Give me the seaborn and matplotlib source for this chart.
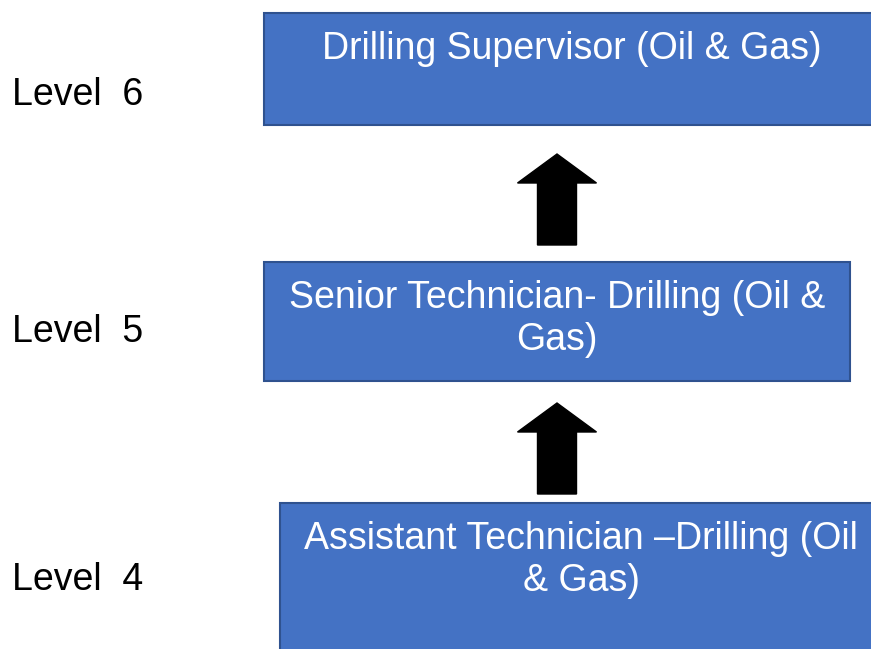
import matplotlib.pyplot as plt
import matplotlib.patches as mpatches
import seaborn as sns

sns.set_theme(style="white")
plt.rcParams['font.family'] = ['Liberation Sans', 'DejaVu Sans']

# career path data
levels = ["Level  6", "Level  5", "Level  4"]
roles = ["Drilling Supervisor (Oil & Gas)",
         "Senior Technician- Drilling (Oil &\nGas)",
         "Assistant Technician \u2013Drilling (Oil\n& Gas)"]

# layout (pixels, y down)
boxes = [(264, 13, 615, 112), (264, 262, 586, 119), (280, 503, 602, 160)]
text_y = [49, 319, 560]
level_y = [95, 332, 580]
arrows = [(557, 245, 154), (557, 494, 403)]

fig = plt.figure(figsize=(8.71, 6.49), dpi=100)
ax = fig.add_axes([0, 0, 1, 1])
ax.set_xlim(0, 871)
ax.set_ylim(649, 0)
ax.axis('off')

for (x, y, w, h), role, ty in zip(boxes, roles, text_y):
    ax.add_patch(mpatches.Rectangle((x, y), w, h, facecolor='#4472C4',
                                    edgecolor='#2F528F', lw=1.5))
    ax.text(x + w / 2, ty, role, color='white', fontsize=27, ha='center',
            va='center', linespacing=1.22)

for lab, ly in zip(levels, level_y):
    ax.text(12, ly, lab, fontsize=27, ha='left', va='center', color='black')

for xc, y0, y1 in arrows:
    ax.add_patch(mpatches.FancyArrow(xc, y0, 0, y1 - y0, width=39,
                                     head_width=79, head_length=29,
                                     length_includes_head=True,
                                     color='black'))

fig.savefig('out.png', dpi=100)
